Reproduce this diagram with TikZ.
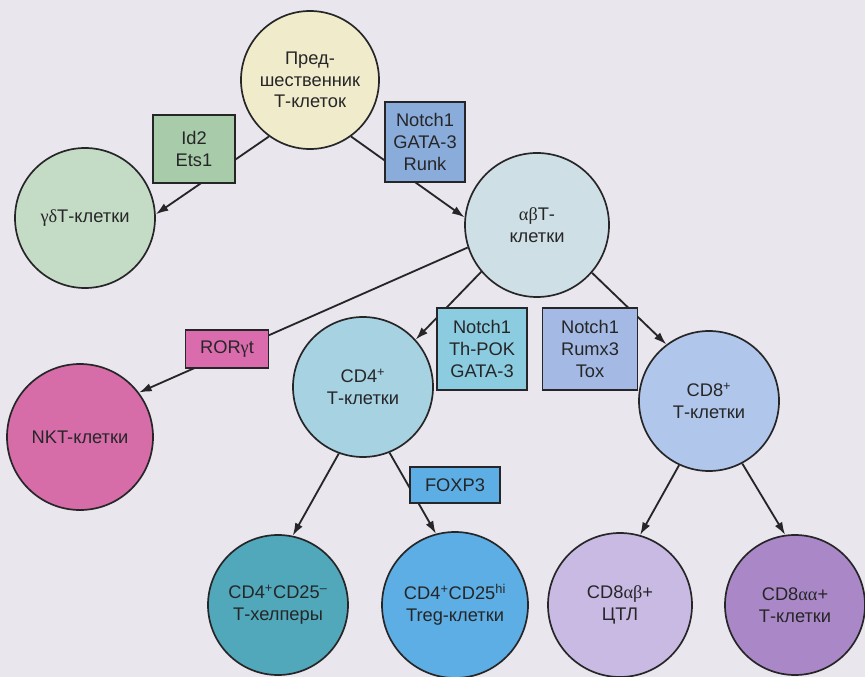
\documentclass[tikz,border=0pt]{standalone}
\usepackage{fontspec}
\setmainfont{Liberation Sans}
\newfontfamily\grfont{Liberation Serif}
\usetikzlibrary{arrows.meta}
\definecolor{fondo}{RGB}{234,230,237}
\definecolor{tinta}{RGB}{38,38,40}
\definecolor{predcolor}{RGB}{240,236,203}
\definecolor{gdcolor}{RGB}{196,220,198}
\definecolor{abcolor}{RGB}{206,223,229}
\definecolor{nktcolor}{RGB}{214,108,168}
\definecolor{cdfourcolor}{RGB}{166,210,226}
\definecolor{cdeightcolor}{RGB}{176,198,234}
\definecolor{thcolor}{RGB}{80,168,186}
\definecolor{tregcolor}{RGB}{92,174,228}
\definecolor{ctlcolor}{RGB}{200,186,226}
\definecolor{aacolor}{RGB}{170,136,200}
\definecolor{idcolor}{RGB}{168,204,170}
\definecolor{notchcolor}{RGB}{138,172,218}
\definecolor{rorcolor}{RGB}{218,108,174}
\definecolor{thpokcolor}{RGB}{140,204,224}
\definecolor{runxcolor}{RGB}{164,186,228}
\definecolor{foxcolor}{RGB}{92,174,228}

\tikzset{
  cell/.style={circle, draw=tinta, line width=1.2pt, text=tinta, align=center,
               inner sep=0pt, minimum size=#1},
  cell/.default=3.5cm,
  factor/.style={draw=tinta, line width=1pt, text=tinta, align=center,
                 inner sep=0pt},
  arrow/.style={-{Latex[length=9pt,width=6pt]}, draw=tinta, line width=1.3pt}
}

\begin{document}
\begin{tikzpicture}[font=\fontsize{13}{15.5}\selectfont]
  \useasboundingbox[fill=fondo] (0,0) rectangle (21.625,-16.925);

  % Клетки
  \node[cell=3.45cm, fill=predcolor] (pred) at (7.75,-2.0) {Пред-\\шественник\\Т-клеток};
  \node[cell, fill=gdcolor] (gd) at (2.125,-5.45) {{\grfont γδ}Т-клетки};
  \node[cell=3.6cm, fill=abcolor] (ab) at (13.425,-5.625) {{\grfont αβ}Т-\\клетки};
  \node[cell=3.65cm, fill=nktcolor] (nkt) at (2.0,-10.925) {NKT-клетки};
  \node[cell, fill=cdfourcolor] (cd4) at (9.075,-9.675) {CD4\textsuperscript{+}\\Т-клетки};
  \node[cell, fill=cdeightcolor] (cd8) at (17.725,-10.025) {CD8\textsuperscript{+}\\Т-клетки};
  \node[cell, fill=thcolor] (th) at (6.95,-15.125) {CD4\textsuperscript{+}CD25\textsuperscript{–}\\Т-хелперы};
  \node[cell=3.65cm, fill=tregcolor] (treg) at (11.375,-15.125) {CD4\textsuperscript{+}CD25\textsuperscript{hi}\\Treg-клетки};
  \node[cell=3.6cm, fill=ctlcolor] (ctl) at (15.5,-15.125) {CD8{\grfont αβ}+\\ЦТЛ};
  \node[cell, fill=aacolor] (aa) at (19.875,-15.125) {CD8{\grfont αα}+\\Т-клетки};

  % Связи
  \draw[arrow] (pred.234) -- (gd.3);
  \draw[arrow] (pred.306) -- (ab.174);
  \draw[arrow] (ab.198) -- (nkt.37);
  \draw[arrow] (ab.220) -- (cd4.42);
  \draw[arrow] (ab.319) -- (cd8.127);
  \draw[arrow] (cd4.250) -- (th.78);
  \draw[arrow] (cd4.292) -- (treg.105);
  \draw[arrow] (cd8.245) -- (ctl.74);
  \draw[arrow] (cd8.298) -- (aa.98);

  % Факторы транскрипции
  \node[factor, fill=idcolor, minimum width=2.05cm, minimum height=1.7cm] (id) at (4.85,-3.725) {Id2\\Ets1};
  \node[factor, fill=notchcolor, minimum width=2.0cm, minimum height=2.0cm] (notcha) at (10.625,-3.55) {Notch1\\GATA-3\\Runk};
  \node[factor, fill=rorcolor, minimum width=2.075cm, minimum height=0.95cm] (ror) at (5.675,-8.725) {ROR{\grfont γ}t};
  \node[factor, fill=thpokcolor, minimum width=2.25cm, minimum height=2.05cm] (notchb) at (12.05,-8.725) {Notch1\\Th-POK\\GATA-3};
  \node[factor, fill=runxcolor, minimum width=2.375cm, minimum height=2.05cm] (notchc) at (14.75,-8.725) {Notch1\\Rumx3\\Tox};
  \node[factor, fill=foxcolor, minimum width=2.25cm, minimum height=0.9cm] (fox) at (11.375,-12.125) {FOXP3};
\end{tikzpicture}
\end{document}
